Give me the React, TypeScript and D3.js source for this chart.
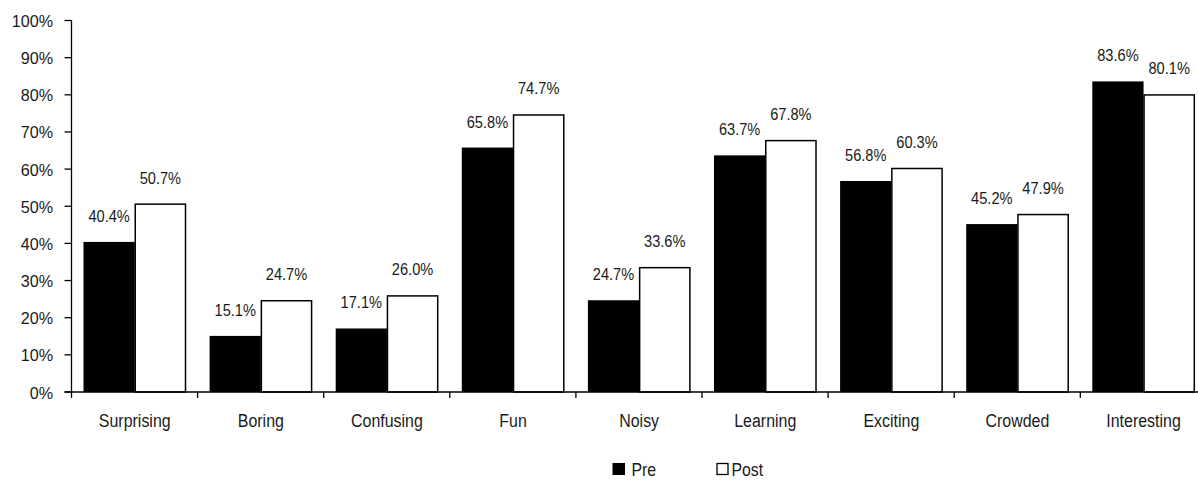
import React from "react";
import * as d3 from "d3";

const categories = ["Surprising", "Boring", "Confusing", "Fun", "Noisy", "Learning", "Exciting", "Crowded", "Interesting"];
const preValues = [40.4, 15.1, 17.1, 65.8, 24.7, 63.7, 56.8, 45.2, 83.6];
const postValues = [50.7, 24.7, 26.0, 74.7, 33.6, 67.8, 60.3, 47.9, 80.1];
const seriesNames = ["Pre", "Post"];
const yTicks = [0, 10, 20, 30, 40, 50, 60, 70, 80, 90, 100];

const W = 1198;
const H = 484;
const left = 71.5;
const bandW = 126.1;
const y0 = 392;
const y100 = 20.5;

const font = "'Liberation Sans', Arial, sans-serif";

function NText({ x, y, sx, size, anchor, children }: any) {
  return (
    <text
      transform={`translate(${x},${y}) scale(${sx},1)`}
      textAnchor={anchor || "start"}
      fontFamily={font}
      fontSize={size}
      fill="#1a1a1a"
    >
      {children}
    </text>
  );
}

export default function App() {
  const x0 = d3.scaleBand<string>().domain(categories).range([left, left + bandW * categories.length]).padding(0);
  const x1 = d3.scaleBand<string>().domain(seriesNames).range([12, 114.5]).padding(0);
  const y = d3.scaleLinear().domain([0, 100]).range([y0, y100]);
  const data = [preValues, postValues];

  return (
    <svg width={W} height={H} style={{ position: "absolute", left: 0, top: 0, background: "#fff" }}>
      {categories.map((c, i) => (
        <g key={c}>
          {seriesNames.map((s, si) => {
            const v = data[si][i];
            const bx = x0(c)! + x1(s)!;
            const bw = x1.bandwidth();
            const top = y(v);
            return (
              <g key={s}>
                <rect
                  x={si === 0 ? bx : bx + 0.5}
                  y={top + (si === 0 ? 0 : 0.5)}
                  width={si === 0 ? bw : bw - 1}
                  height={y0 - top - (si === 0 ? 0 : 0.5)}
                  fill={si === 0 ? "#000" : "#fff"}
                  stroke="#000"
                  strokeWidth={si === 0 ? 0 : 1.5}
                />
                <NText x={bx + bw / 2} y={top - 20} sx={0.86} size={17} anchor="middle">
                  {v.toFixed(1)}%
                </NText>
              </g>
            );
          })}
        </g>
      ))}
      <line x1={left} x2={left} y1={y(100)} y2={y0} stroke="#000" strokeWidth={1.3} />
      {yTicks.map((t) => (
        <g key={t}>
          <line x1={left - 7} x2={left} y1={y(t)} y2={y(t)} stroke="#000" strokeWidth={1.3} />
          <NText x={53} y={y(t) + 6.5} sx={0.95} size={17} anchor="end">
            {t}%
          </NText>
        </g>
      ))}
      <line x1={left - 7} x2={W} y1={y0} y2={y0} stroke="#000" strokeWidth={1.3} />
      {categories.map((c) => (
        <g key={c}>
          <line x1={x0(c)!} x2={x0(c)!} y1={y0} y2={y0 + 6} stroke="#000" strokeWidth={1.3} />
          <NText x={x0(c)! + 12 + (114.5 - 12) / 2} y={427} sx={0.84} size={19} anchor="middle">
            {c}
          </NText>
        </g>
      ))}
      <g>
        <rect x={612.5} y={463} width={12.5} height={12} fill="#000" />
        <NText x={631.5} y={475.5} sx={0.88} size={18}>
          {seriesNames[0]}
        </NText>
        <rect x={717} y={463.5} width={11} height={11} fill="#fff" stroke="#000" strokeWidth={1.3} />
        <NText x={731.5} y={475.5} sx={0.88} size={18}>
          {seriesNames[1]}
        </NText>
      </g>
    </svg>
  );
}
